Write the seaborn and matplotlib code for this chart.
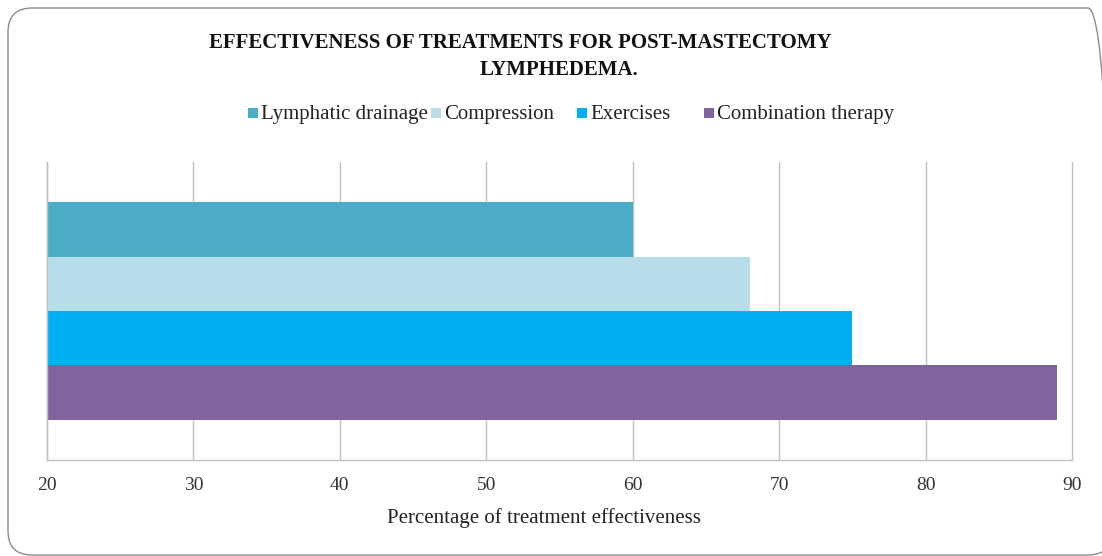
import matplotlib
matplotlib.use("Agg")
import matplotlib.pyplot as plt
import matplotlib.transforms as mtransforms
from matplotlib.patches import FancyBboxPatch, Rectangle
import seaborn as sns
import pandas as pd

# Chart data
treatments = ["Lymphatic drainage", "Compression", "Exercises", "Combination therapy"]
effectiveness = [60, 68, 75, 89]
colors = ["#4BACC6", "#B7DEE8", "#00B0F0", "#8064A2"]
x_ticks = [20, 30, 40, 50, 60, 70, 80, 90]

sns.set_theme(style="white")
plt.rcParams["font.family"] = ["Liberation Serif", "DejaVu Serif"]

df = pd.DataFrame({
    "group": ["All"] * len(treatments),
    "treatment": treatments,
    "value": effectiveness,
})

W, H = 1102, 556
fig = plt.figure(figsize=(W / 100, H / 100), dpi=100)
px = mtransforms.IdentityTransform()

# Rounded frame around the whole chart (pixel coordinates, origin bottom-left)
frame = FancyBboxPatch((8, 1), 1104, 547,
                       boxstyle="round,pad=0,rounding_size=24",
                       transform=px, facecolor="none", edgecolor="#8c8c8c",
                       linewidth=1.0, clip_on=False)
fig.add_artist(frame)

ax = fig.add_axes([47 / W, 1 - 460 / H, (1072 - 47) / W, (460 - 162) / H])
sns.barplot(data=df, x="value", y="group", hue="treatment",
            hue_order=treatments, palette=colors, orient="h",
            width=0.73, saturation=1, linewidth=0, legend=False, ax=ax)

ax.set_xlim(20, 90)
ax.set_ylim(0.5, -0.5)
ax.set_xticks(x_ticks)
ax.set_xticklabels([str(t) for t in x_ticks], fontsize=14, color="#333333")
ax.set_yticks([-0.5, 0.5])
ax.set_yticklabels(["", ""])
ax.set_xlabel("")
ax.set_ylabel("")

grid_c = "#bfbfbf"
ax.grid(axis="x", color=grid_c, linewidth=1.0)
for gl in ax.get_xgridlines():
    gl.set_clip_on(False)
ax.set_axisbelow(True)
for s in ["top", "right"]:
    ax.spines[s].set_visible(False)
for s in ["left", "bottom"]:
    ax.spines[s].set_color(grid_c)
    ax.spines[s].set_linewidth(1.0)
ax.tick_params(axis="x", direction="out", length=4, width=1, color=grid_c, pad=8)
ax.tick_params(axis="y", direction="out", length=4.5, width=1, color=grid_c)

# Title
fig.text(520 / W, 1 - 48 / H, "EFFECTIVENESS OF TREATMENTS FOR POST-MASTECTOMY",
         ha="center", va="baseline", fontsize=15, fontweight="bold", color="#111111")
fig.text(559 / W, 1 - 75 / H, "LYMPHEDEMA.",
         ha="center", va="baseline", fontsize=15, fontweight="bold", color="#111111")

# Legend: colour squares followed by their labels
legend_x = [248, 431, 577, 704]
for x, t, c in zip(legend_x, treatments, colors):
    fig.add_artist(Rectangle((x, H - 118), 10, 10, transform=px,
                             facecolor=c, edgecolor="none"))
    fig.text((x + 13) / W, 1 - 119 / H, t, ha="left", va="baseline",
             fontsize=15, color="#222222")

# Axis title
fig.text(544 / W, 1 - 523 / H, "Percentage of treatment effectiveness",
         ha="center", va="baseline", fontsize=15, color="#222222")

fig.savefig("out.png", dpi=100)
